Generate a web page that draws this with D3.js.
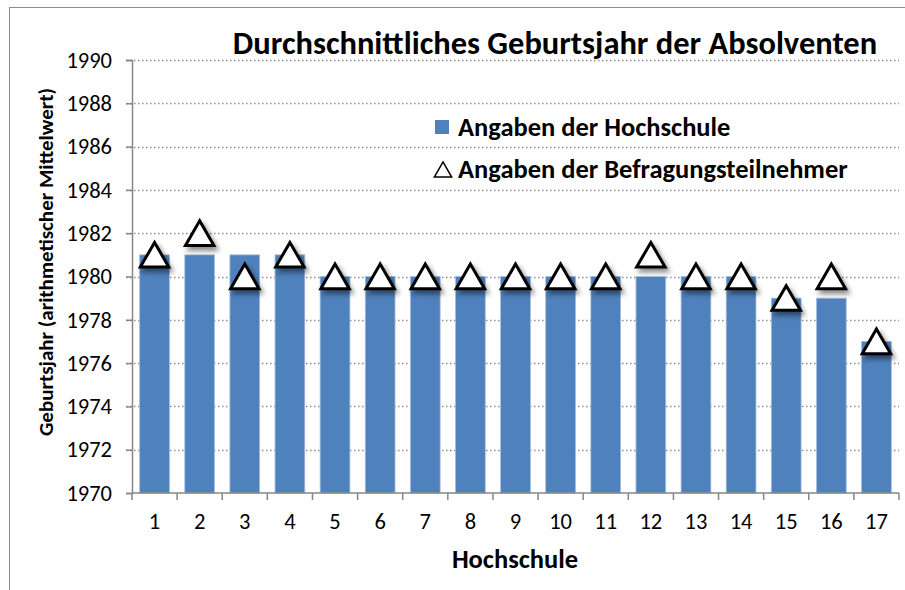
<!DOCTYPE html>
<html>
<head>
<meta charset="utf-8">
<script src="https://cdn.jsdelivr.net/npm/d3@7"></script>
<style>
  body { margin: 0; background: #fff; }
  text { font-family: Calibri, Carlito, "Noto Sans", sans-serif; }
</style>
</head>
<body>
<div id="chart"></div>
<script>
var schools = ["1","2","3","4","5","6","7","8","9","10","11","12","13","14","15","16","17"];
var hochschule = [1981,1981,1981,1981,1980,1980,1980,1980,1980,1980,1980,1980,1980,1980,1979,1979,1977];
var teilnehmer = [1981,1982,1980,1981,1980,1980,1980,1980,1980,1980,1980,1981,1980,1980,1979,1980,1977];
var yTicks = [1970,1972,1974,1976,1978,1980,1982,1984,1986,1988,1990];

var width = 905, height = 590;
var margin = {top: 60, right: 6, bottom: 97, left: 132};

var svg = d3.select("#chart").append("svg").attr("width", width).attr("height", height);

var defs = svg.append("defs");
var f = defs.append("filter").attr("id", "shadow").attr("x", "-30%").attr("y", "-30%").attr("width", "170%").attr("height", "170%");
f.append("feDropShadow").attr("dx", 3).attr("dy", 4).attr("stdDeviation", 2.5)
	.attr("flood-color", "#000").attr("flood-opacity", 0.45);

// outer frame
svg.append("rect").attr("x", 9.5).attr("y", 7.5).attr("width", 905).attr("height", 600)
	.style("fill", "none").style("stroke", "#8c8c8c").style("stroke-width", 1);

var x = d3.scaleBand().domain(schools)
	.range([margin.left, width - margin.right])
	.paddingInner(0.34).paddingOuter(0.17);
var y = d3.scaleLinear().domain([1970, 1990]).range([height - margin.bottom, margin.top]);

// gridlines
svg.append("g").selectAll("line")
	.data(yTicks.slice(1))
	.enter().append("line")
		.attr("x1", margin.left - 6).attr("x2", width - margin.right)
		.attr("y1", d => Math.round(y(d)) + 0.5).attr("y2", d => Math.round(y(d)) + 0.5)
		.style("stroke", "#8c8c8c").style("stroke-width", 1.3).style("stroke-dasharray", "1.5,2.5");

// bars
svg.append("g").selectAll("rect")
	.data(hochschule)
	.enter().append("rect")
		.attr("x", (d, i) => x(schools[i]))
		.attr("width", x.bandwidth())
		.attr("y", d => y(d))
		.attr("height", d => y(1970) - y(d))
		.style("fill", "#4f81bd")
		.style("stroke", "#a7bfde").style("stroke-width", 0.8);

// y axis
var yAxis = svg.append("g").attr("transform", "translate(" + margin.left + ",0)")
	.call(d3.axisLeft(y).tickValues(yTicks).tickSize(6).tickPadding(14).tickFormat(d3.format("d")));
yAxis.select(".domain").style("stroke", "#868686").style("stroke-width", 1.5);
yAxis.selectAll(".tick line").style("stroke", "#868686").style("stroke-width", 1.5);
yAxis.selectAll("text").style("font-size", "22.5px").style("fill", "#000");

// x axis
var xAxis = svg.append("g").attr("transform", "translate(0," + y(1970) + ")")
	.call(d3.axisBottom(x).tickSize(0).tickPadding(20));
xAxis.select(".domain").attr("d", "M" + margin.left + ",0H" + (width - margin.right))
	.style("stroke", "#868686").style("stroke-width", 1.5);
xAxis.selectAll("text").style("font-size", "22.5px").style("fill", "#000");
svg.append("g").selectAll("line")
	.data(d3.range(schools.length + 1))
	.enter().append("line")
		.attr("x1", i => margin.left + i * (width - margin.right - margin.left) / schools.length)
		.attr("x2", i => margin.left + i * (width - margin.right - margin.left) / schools.length)
		.attr("y1", y(1970)).attr("y2", y(1970) + 7)
		.style("stroke", "#868686").style("stroke-width", 1.5);

// triangles
var tri = d3.symbol().type(d3.symbolTriangle).size(350);
svg.append("g").selectAll("path")
	.data(teilnehmer)
	.enter().append("path")
		.attr("d", tri)
		.attr("transform", (d, i) => "translate(" + (x(schools[i]) + x.bandwidth() / 2) + "," + (y(d) + 4) + ")")
		.style("fill", "#fff").style("stroke", "#000").style("stroke-width", 3)
		.style("stroke-linejoin", "miter")
		.attr("filter", "url(#shadow)");

// title
svg.append("text").attr("x", 555).attr("y", 54).attr("text-anchor", "middle")
	.style("font-size", "32.5px").style("font-weight", "bold")
	.text("Durchschnittliches Geburtsjahr der Absolventen");

// legend
var leg = svg.append("g");
leg.append("rect").attr("x", 435).attr("y", 120).attr("width", 14).attr("height", 14).style("fill", "#4f81bd");
leg.append("text").attr("x", 458).attr("y", 136).style("font-size", "26.5px").style("font-weight", "bold")
	.text("Angaben der Hochschule");
leg.append("path").attr("d", d3.symbol().type(d3.symbolTriangle).size(130))
	.attr("transform", "translate(443,172)")
	.style("fill", "#fff").style("stroke", "#000").style("stroke-width", 1.5);
leg.append("text").attr("x", 458).attr("y", 178).style("font-size", "26.5px").style("font-weight", "bold")
	.text("Angaben der Befragungsteilnehmer");

// axis titles
svg.append("text").attr("transform", "translate(53,262) rotate(-90)").attr("text-anchor", "middle")
	.style("font-size", "21px").style("font-weight", "bold")
	.text("Geburtsjahr (arithmetischer Mittelwert)");
svg.append("text").attr("x", 515).attr("y", 568).attr("text-anchor", "middle")
	.style("font-size", "26.5px").style("font-weight", "bold")
	.text("Hochschule");
</script>
</body>
</html>
